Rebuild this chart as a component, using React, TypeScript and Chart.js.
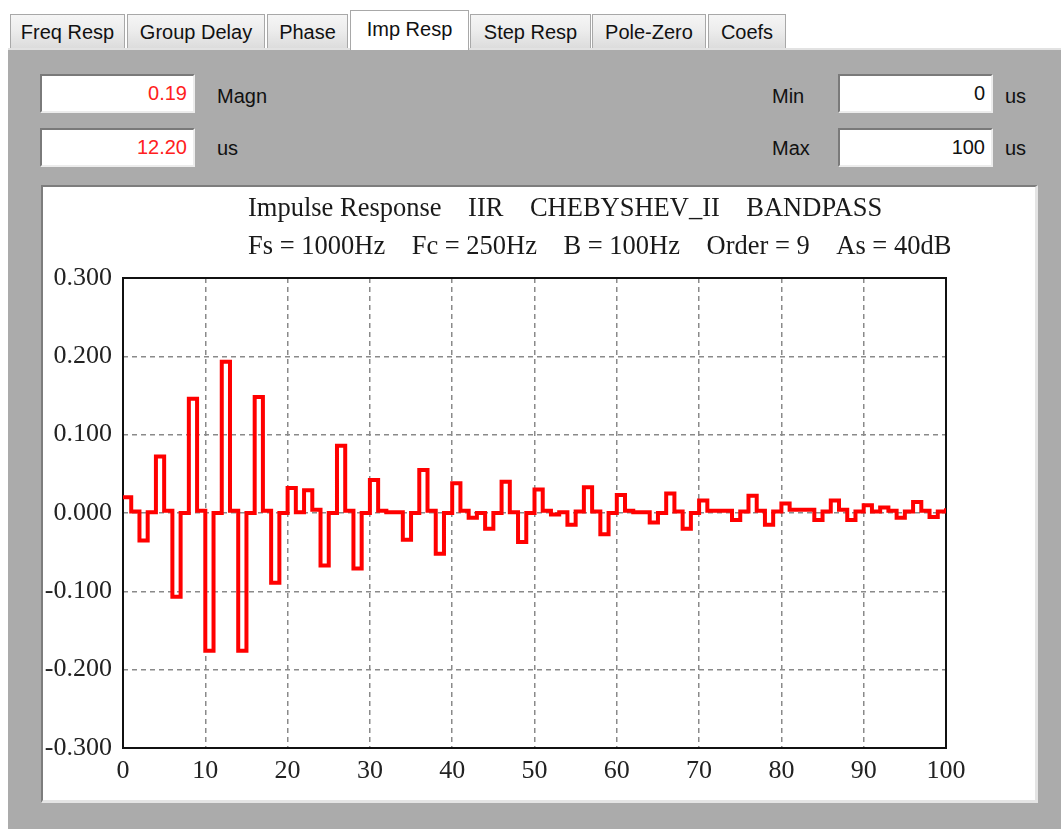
import React, { useEffect, useRef } from 'react';
import { Chart, registerables } from 'chart.js';

Chart.register(...registerables);

// Impulse response samples h[n], n = 0..100 (each held for one unit)
const impulse = [
  0.020, 0.002, -0.035, 0.001, 0.072, 0.003, -0.107, 0.000, 0.146, 0.003,
  -0.176, 0.000, 0.193, 0.003, -0.176, 0.000, 0.148, 0.003, -0.089, 0.000,
  0.032, 0.001, 0.029, 0.004, -0.067, 0.000, 0.086, 0.003, -0.071, 0.000,
  0.042, 0.003, 0.001, 0.001, -0.034, 0.000, 0.055, 0.003, -0.052, 0.000,
  0.038, 0.003, -0.006, 0.000, -0.020, 0.000, 0.040, 0.001, -0.037, 0.000,
  0.030, 0.003, -0.002, 0.001, -0.015, 0.002, 0.033, 0.002, -0.027, 0.000,
  0.023, 0.003, 0.001, 0.001, -0.012, 0.000, 0.025, 0.002, -0.020, 0.000,
  0.016, 0.003, 0.003, 0.003, -0.009, 0.002, 0.022, 0.003, -0.015, 0.002,
  0.012, 0.004, 0.004, 0.004, -0.009, 0.002, 0.016, 0.004, -0.009, 0.002,
  0.010, 0.002, 0.007, 0.003, -0.006, 0.002, 0.014, 0.003, -0.005, 0.002,
  0.006,
];

const xTicks = [0, 10, 20, 30, 40, 50, 60, 70, 80, 90, 100];
const yTicks = [-0.3, -0.2, -0.1, 0, 0.1, 0.2, 0.3];

const titleLine1 = 'Impulse Response    IIR    CHEBYSHEV_II    BANDPASS';
const titleLine2 = 'Fs = 1000Hz    Fc = 250Hz    B = 100Hz    Order = 9    As = 40dB';

const tabs = ['Freq Resp', 'Group Delay', 'Phase', 'Imp Resp', 'Step Resp', 'Pole-Zero', 'Coefs'];
const tabEdges = [[10, 125], [127, 265], [267, 348], [350, 469], [470, 591], [592, 706], [708, 786]];
const selectedTab = 3;

const magnValue = '0.19';
const timeValue = '12.20';
const minValue = '0';
const maxValue = '100';

const SERIF = '"Liberation Serif", "Times New Roman", Times, serif';
const SANS = '"Liberation Sans", Arial, sans-serif';

const framePlugin = {
  id: 'frameAndTitles',
  beforeDatasetsDraw(chart: any) {
    const { ctx, chartArea } = chart;
    ctx.save();
    ctx.strokeStyle = '#111';
    ctx.lineWidth = 2;
    ctx.strokeRect(chartArea.left, chartArea.top, chartArea.right - chartArea.left, chartArea.bottom - chartArea.top);
    ctx.restore();
  },
  afterDraw(chart: any) {
    const { ctx, chartArea } = chart;
    ctx.save();
    ctx.fillStyle = '#1a1a1a';
    ctx.font = `26.5px ${SERIF}`;
    ctx.textAlign = 'left';
    ctx.textBaseline = 'middle';
    ctx.fillText(titleLine1, chartArea.left + 125, 22);
    ctx.fillText(titleLine2, chartArea.left + 125, 60);
    ctx.restore();
  },
};

function InputBox({ left, top, value, color }: { left: number; top: number; value: string; color: string }) {
  return (
    <div
      style={{
        position: 'absolute',
        left,
        top,
        width: 155,
        height: 39,
        boxSizing: 'border-box',
        background: '#fff',
        borderTop: '2px solid #7a7a7a',
        borderLeft: '2px solid #7a7a7a',
        borderRight: '2px solid #ececec',
        borderBottom: '2px solid #ececec',
        color,
        fontFamily: SANS,
        fontSize: 20,
        textAlign: 'right',
        paddingRight: 6,
        lineHeight: '35px',
      }}
    >
      {value}
    </div>
  );
}

function Label({ left, top, text }: { left: number; top: number; text: string }) {
  return (
    <div style={{ position: 'absolute', left, top, fontFamily: SANS, fontSize: 20, color: '#111', lineHeight: '24px' }}>
      {text}
    </div>
  );
}

export default function App() {
  const canvasRef = useRef<HTMLCanvasElement>(null);

  useEffect(() => {
    const canvas = canvasRef.current;
    if (!canvas) return;
    const chart = new Chart(canvas, {
      type: 'line',
      data: {
        datasets: [
          {
            data: impulse.map((v, i) => ({ x: i, y: v })),
            borderColor: '#ff0000',
            borderWidth: 4,
            pointRadius: 0,
            stepped: true,
            fill: false,
            borderJoinStyle: 'miter',
            borderCapStyle: 'butt',
          },
        ],
      },
      options: {
        animation: false,
        responsive: false,
        maintainAspectRatio: false,
        events: [],
        layout: { padding: { left: 0, top: 91, right: 87, bottom: 0 } },
        plugins: { legend: { display: false }, tooltip: { enabled: false }, title: { display: false } },
        scales: {
          x: {
            type: 'linear',
            min: 0,
            max: 100,
            afterBuildTicks: (scale: any) => {
              scale.ticks = xTicks.map((v) => ({ value: v }));
            },
            afterFit: (scale: any) => {
              scale.height = 51;
            },
            grid: { color: '#8a8a8a', lineWidth: 1.5, drawTicks: false },
            border: { display: false, dash: [5, 4] },
            ticks: {
              padding: 8,
              color: '#222',
              font: { family: SERIF, size: 26 },
              maxRotation: 0,
              autoSkip: false,
              callback: (v: any) => String(v),
            },
          },
          y: {
            type: 'linear',
            min: -0.3,
            max: 0.3,
            afterBuildTicks: (scale: any) => {
              scale.ticks = yTicks.map((v) => ({ value: v }));
            },
            afterFit: (scale: any) => {
              scale.width = 80;
            },
            grid: { color: '#8a8a8a', lineWidth: 1.5, drawTicks: false },
            border: { display: false, dash: [5, 4] },
            ticks: {
              padding: 11,
              color: '#222',
              font: { family: SERIF, size: 26 },
              autoSkip: false,
              callback: (v: any) => (Math.abs(Number(v)) < 1e-9 ? '0.000' : Number(v).toFixed(3)),
            },
          },
        },
      },
      plugins: [framePlugin],
    } as any);
    return () => chart.destroy();
  }, []);

  return (
    <div
      style={{
        position: 'fixed',
        left: 0,
        top: 0,
        width: 1061,
        height: 829,
        background: '#ffffff',
        overflow: 'hidden',
        fontFamily: SANS,
      }}
    >
      {/* gray tab page */}
      <div
        style={{
          position: 'absolute',
          left: 8,
          top: 48,
          right: 0,
          bottom: 0,
          background: '#ababab',
          borderTop: '2px solid #e2e2e2',
        }}
      />

      {/* tabs */}
      {tabs.map((t, i) => {
        const [l, r] = tabEdges[i];
        const sel = i === selectedTab;
        return (
          <div
            key={t}
            style={{
              position: 'absolute',
              left: l,
              top: sel ? 10 : 14,
              width: r - l,
              height: sel ? 40 : 34,
              boxSizing: 'border-box',
              borderTop: '1px solid #a8a8a8',
              borderLeft: '1px solid #a8a8a8',
              borderRight: '1px solid #a8a8a8',
              background: sel ? '#ffffff' : 'linear-gradient(#f5f5f5 0%, #ededed 45%, #dcdcdc 100%)',
              fontFamily: SANS,
              fontSize: 20,
              color: '#111',
              textAlign: 'center',
              lineHeight: sel ? '36px' : '34px',
              zIndex: sel ? 2 : 1,
              whiteSpace: 'nowrap',
            }}
          >
            {t}
          </div>
        );
      })}

      {/* read-outs */}
      <InputBox left={40} top={74} value={magnValue} color="#ff2020" />
      <Label left={217} top={84} text="Magn" />
      <InputBox left={40} top={128} value={timeValue} color="#ff2020" />
      <Label left={217} top={136} text="us" />

      <Label left={772} top={84} text="Min" />
      <InputBox left={838} top={74} value={minValue} color="#111" />
      <Label left={1005} top={84} text="us" />
      <Label left={772} top={136} text="Max" />
      <InputBox left={838} top={128} value={maxValue} color="#111" />
      <Label left={1005} top={136} text="us" />

      {/* chart panel */}
      <div
        style={{
          position: 'absolute',
          left: 41,
          top: 185,
          width: 997,
          height: 618,
          boxSizing: 'border-box',
          background: '#ffffff',
          borderTop: '2px solid #7d7d7d',
          borderLeft: '2px solid #7d7d7d',
          borderRight: '3px solid #e4e4e4',
          borderBottom: '3px solid #e4e4e4',
        }}
      />
      <canvas
        ref={canvasRef}
        width={990}
        height={612}
        style={{ position: 'absolute', left: 43, top: 187, width: 990, height: 612 }}
      />
    </div>
  );
}
